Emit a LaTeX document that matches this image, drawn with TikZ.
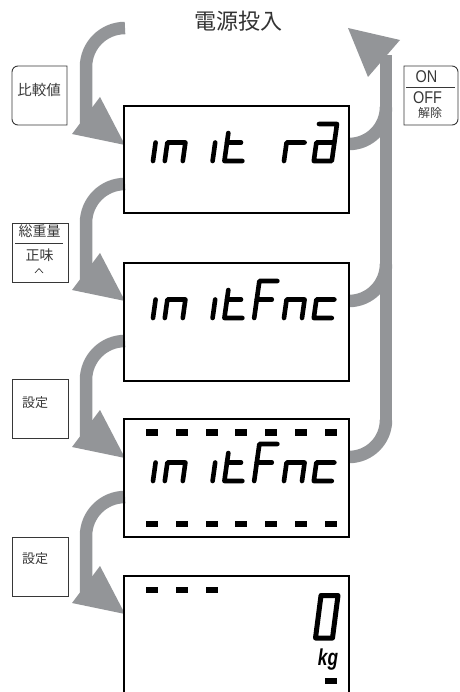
\documentclass[tikz,border=0pt]{standalone}
\usepackage{fontspec}
\newfontfamily\jp{Noto Sans CJK JP}
\newfontfamily\lsans{Liberation Sans}
\definecolor{arrowgray}{RGB}{147,149,152}
\definecolor{labelgray}{RGB}{55,55,55}
\newcommand\segI{\draw[seg] (18,-18.5) -- (18,0);}
\newcommand\segN{\draw[seg] (0,0) -- (0,-18.5) -- (18,-18.5) -- (18,0);}
\newcommand\segT{\draw[seg] (0,-28) -- (0,0) -- (18,0); \draw[seg] (0,-18.5) -- (14,-18.5);}
\newcommand\segR{\draw[seg] (0,0) -- (0,-18.5) -- (18,-18.5);}
\newcommand\segA{\draw[seg] (0,-37) -- (18,-37) -- (18,0) -- (0,0) -- (0,-18.5) -- (18,-18.5);}
\newcommand\segF{\draw[seg] (18,-37) -- (0,-37) -- (0,0); \draw[seg] (0,-18.5) -- (15,-18.5);}
\newcommand\segC{\draw[seg] (18,-18.5) -- (0,-18.5) -- (0,0) -- (18,0);}
\newcommand\glyph[3]{\begin{scope}[digit={135+29.8*#1,#2}]#3\end{scope}}
\begin{document}
\begin{tikzpicture}[x=1pt,y=-1pt,
  disp/.style={draw=black,line width=1.6pt},
  lbl/.style={draw=labelgray,line width=0.9pt},
  band/.style={draw=arrowgray,line width=12.5pt},
  seg/.style={line width=4.6pt,line cap=round,line join=round},
  digit/.style={shift={(#1)},xslant=0.14},
  jptext/.style={font=\jp\fontsize{#1}{#1}\selectfont, text=labelgray, inner sep=0pt}
]
\useasboundingbox (0,0) rectangle (459,692);

% left arrows
\foreach \y in {28,184,341,497}{
  \draw[band] (125,\y) arc[start angle=270,end angle=180,radius=39] -- (86,\y+98);
  \fill[arrowgray] (100,\y+69) -- (72,\y+106) -- (125,\y+117) -- cycle;
}
% right arrows
\foreach \y in {144,301,457}{
  \draw[band] (349,\y) arc[start angle=90,end angle=0,radius=37];
}
\draw[band] (386,421) -- (386,55);
\fill[arrowgray] (348,28) -- (400,40) -- (368,77) -- cycle;

% display boxes
\draw[disp] (124,106) rectangle (349,213);
\draw[disp] (124,263) rectangle (349,381);
\draw[disp] (124,419) rectangle (349,537);
\draw[disp] (124,693) -- (124,576) -- (349,576) -- (349,693);

% box 1 glyphs
\glyph{0}{161}{\segI}
\glyph{1}{161}{\segN}
\glyph{2}{161}{\segI}
\glyph{3}{161}{\segT}
\glyph{5}{161}{\segR}
\glyph{6}{161}{\segA}
% box 2 glyphs
\glyph{0}{318}{\segI}
\glyph{1}{318}{\segN}
\glyph{2}{318}{\segI}
\glyph{3}{318}{\segT}
\glyph{4}{318}{\segF}
\glyph{5}{318}{\segN}
\glyph{6}{318}{\segC}
% box 3 glyphs
\glyph{0}{481}{\segI}
\glyph{1}{481}{\segN}
\glyph{2}{481}{\segI}
\glyph{3}{481}{\segT}
\glyph{4}{481}{\segF}
\glyph{5}{481}{\segN}
\glyph{6}{481}{\segC}
\foreach \k in {0,...,6}{
  \fill (146+29.8*\k,429) rectangle +(12,7);
  \fill (146+29.8*\k,521) rectangle +(12,6);
}
% box 4
\foreach \k in {0,1,2}{ \fill (146+29.8*\k,587) rectangle +(12,6); }
\draw[line width=5pt,line join=round] (315.5,638) -- (332.5,638) -- (338,595.5) -- (321,595.5) -- cycle;
\node[font=\lsans\bfseries\itshape\fontsize{23}{23}\selectfont, xscale=0.75, inner sep=0pt, anchor=base] (kg) at (328,665) {kg};
\fill (325,678) rectangle (337,683.5);

% label boxes
\draw[lbl] (67,66) -- (18,66) arc[start angle=270,end angle=180,radius=6] -- (12,119) arc[start angle=180,end angle=90,radius=6] -- (67,125) -- cycle;
\node[jptext=14.5] (hikaku) at (39,90) {比較値};

\draw[lbl] (12,223) rectangle (68,282);
\node[jptext=14] (soju) at (39.5,231) {総重量};
\draw[labelgray,line width=0.8pt] (15,243) -- (63,243);
\node[jptext=14] (shomi) at (39.5,255) {正味};
\draw[labelgray,line width=0.7pt] (35,273) -- (39,268.5) -- (43,273);

\draw[lbl] (12,379) rectangle (68,438);
\node[jptext=13] (settei1) at (35,403) {設定};
\draw[lbl] (12,537) rectangle (68,596);
\node[jptext=13] (settei2) at (35,559) {設定};

\draw[lbl] (404,66) -- (452,66) arc[start angle=270,end angle=360,radius=6] -- (458,119) arc[start angle=0,end angle=90,radius=6] -- (404,125) -- cycle;
\node[font=\lsans\fontsize{17}{17}\selectfont, xscale=0.85, text=labelgray, inner sep=0pt] (on) at (426.5,77) {ON};
\draw[labelgray,line width=0.8pt] (406,87.5) -- (455,87.5);
\node[font=\lsans\fontsize{17}{17}\selectfont, xscale=0.85, text=labelgray, inner sep=0pt] (off) at (427.5,98) {OFF};
\node[jptext=12] (kaijo) at (430,112.5) {解除};

% title
\node[jptext=22, text=black!80] (title) at (238,21) {電源投入};
\end{tikzpicture}
\end{document}
